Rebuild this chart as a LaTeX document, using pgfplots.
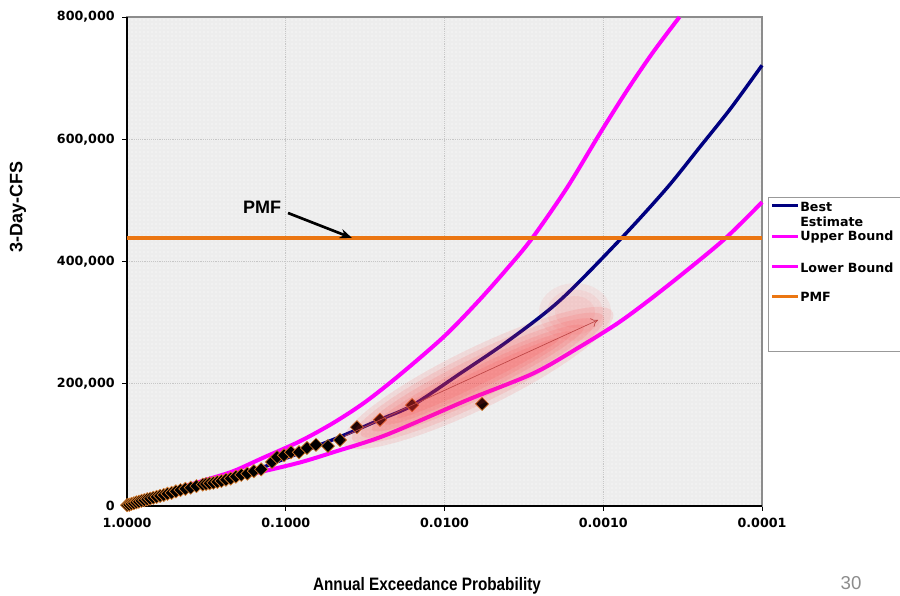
\documentclass[border=0pt]{standalone}
\usepackage{fontspec}
\setmainfont{DejaVu Sans}
\newfontfamily\dvs{DejaVu Sans}
\newfontfamily\lib{Liberation Sans}
\usepackage{pgfplots}
\pgfplotsset{compat=1.18}
\usetikzlibrary{arrows.meta,patterns}
\definecolor{navyc}{RGB}{0,0,128}
\definecolor{magc}{RGB}{255,0,255}
\definecolor{pmfc}{RGB}{235,118,18}
\definecolor{mkedge}{RGB}{214,120,40}
\definecolor{arrred}{RGB}{190,70,70}

\begin{document}
\begin{tikzpicture}[x=0.75pt,y=0.75pt]
\useasboundingbox (0,0) rectangle (900,596);
\begin{axis}[
  at={(95.25pt,67.5pt)}, anchor=south west, scale only axis,
  width=476.25pt, height=366.75pt,
  xmode=log, x dir=reverse, xmin=0.0001, xmax=1,
  ymin=0, ymax=800000, clip=false,
  scaled y ticks=false,
  xtick={1,0.1,0.01,0.001,0.0001},
  xticklabels={1.0000,0.1000,0.0100,0.0010,0.0001},
  xminorticks=false,
  ytick={0,200000,400000,600000,800000},
  yticklabels={0,{200,000},{400,000},{600,000},{800,000}},
  xtick pos=bottom, ytick pos=left,
  tick align=outside, major tick length=3.75pt,
  tick style={black, line width=0.6pt},
  grid=major, major grid style={black!22, densely dotted, line width=0.6pt},
  axis background/.style={fill=black!7, postaction={pattern=dots, pattern color=white}},
  axis line style={draw=black!45, line width=0.8pt},
  ticklabel style={font=\dvs\bfseries\fontsize{9.5}{11}\selectfont},
  xticklabel style={yshift=-2pt},
  yticklabel style={xshift=-2pt},
]
\draw[black, line width=1pt] (axis description cs:0,1) -- (axis description cs:0,0) -- (axis description cs:1,0);

% Best Estimate
\addplot[navyc, line width=2.6pt, smooth] coordinates {
(1,0) (0.5012,23000) (0.2512,43000) (0.1445,62000) (0.1,78000)
(0.04571,113000) (0.02512,142000) (0.01585,165000) (0.007943,217000)
(0.003981,270000) (0.001862,337000) (0.000776,437000) (0.000398,520000)
(0.000245,588000) (0.000158,650000) (0.0001,721000)
};
% Upper Bound
\addplot[magc, line width=3pt, smooth] coordinates {
(1,0) (0.631,16000) (0.4467,31000) (0.3162,43000) (0.2138,57000)
(0.1413,78000) (0.0813,106000) (0.0501,136000) (0.03162,170000)
(0.01905,215000) (0.01,278000) (0.006026,337000) (0.003981,390000)
(0.002825,437000) (0.001698,520000) (0.001047,610000) (0.000708,680000)
(0.00049,741000) (0.000331,800000)
};
% Lower Bound
\addplot[magc, line width=3pt, smooth] coordinates {
(1,0) (0.417,30000) (0.2512,42000) (0.1318,58000) (0.0794,72000)
(0.0501,88000) (0.02344,116000) (0.007244,173000) (0.002754,217000)
(0.001413,260000) (0.000822,298000) (0.000537,333000) (0.000316,380000)
(0.00017,438000) (0.0001,497000)
};
% PMF
\addplot[pmfc, line width=3pt] coordinates {(1,438000) (0.0001,438000)};
% Observed
\addplot[only marks, mark=square*, mark size=3.5pt,
  mark options={rotate=45, fill=black, draw=mkedge, line width=0.5pt}] coordinates {
(0.998,1500)
(0.9683,2000)(0.9365,3500)(0.9048,4500)(0.8730,6000)(0.8413,7000)(0.8095,8500)
(0.7778,9500)(0.7460,11000)(0.7143,12000)(0.6825,13500)(0.6508,15000)(0.6190,16500)
(0.5873,18000)(0.5556,20000)(0.5238,21500)(0.4921,24000)(0.4603,26000)(0.4286,28000)
(0.3968,30000)(0.3651,32500)(0.3333,35000)(0.3175,36000)(0.3016,37000)(0.2857,38000)
(0.2698,39500)(0.2540,41000)(0.2381,43000)(0.2222,45000)(0.2063,48000)(0.1905,51000)
(0.1746,53000)(0.1587,57000)(0.1429,60000)
(0.122,72000)(0.1135,80000)(0.1026,83000)(0.0927,88000)(0.0825,88000)(0.0735,95000)
(0.0645,100000)(0.0542,98000)(0.0455,108000)(0.0356,129000)(0.0255,141000)
(0.0160,165000)(0.0058,167000)
};
\end{axis}

% red glow annotation
\begin{scope}[shift={(478,218)}, rotate=26]
\foreach \a/\b in {150/30,140/25,130/20,118/15,104/11,90/7}
  \fill[red!80!white, opacity=0.11] (0,0) ellipse [x radius=\a, y radius=\b];
\end{scope}
\begin{scope}[shift={(575,284)}]
\foreach \r in {36,28,20}
  \fill[red!70!white, opacity=0.08] (0,0) ellipse [x radius=\r, y radius=0.8*\r];
\end{scope}
\draw[-{To[length=5pt,width=7pt]}, arrred, line width=0.5pt] (345,160) -- (598,276);

% PMF annotation
\node[font=\lib\bfseries\fontsize{13.5}{15}\selectfont] at (262,389) {PMF};
\draw[-{Stealth[length=9pt,width=7pt]}, black, line width=2pt] (288,383) -- (352,358);

% axis titles
\node[rotate=90, font=\lib\bfseries\fontsize{13.5}{15}\selectfont] at (18,389) {3-Day-CFS};
\node[font=\lib\bfseries\fontsize{13.5}{15}\selectfont] at (427,10) {\scalebox{0.85}[1]{Annual Exceedance Probability}};
\node[font=\lib\fontsize{14}{16}\selectfont, text=black!45] at (851,13) {30};

% legend
\draw[black!40, fill=white, line width=0.75pt] (768,398) rectangle (905,244);
\draw[navyc, line width=2.25pt] (772,390) -- (798,390);
\draw[magc, line width=2.25pt] (772,359) -- (798,359);
\draw[magc, line width=2.25pt] (772,329) -- (798,329);
\draw[pmfc, line width=2.25pt] (772,299) -- (798,299);
\begin{scope}[every node/.style={anchor=west, inner sep=0pt, font=\dvs\bfseries\fontsize{9.5}{11}\selectfont}]
\node at (800,389) {Best};
\node at (800,374) {Estimate};
\node at (800,359) {Upper Bound};
\node at (800,328) {Lower Bound};
\node at (800,299) {PMF};
\end{scope}
\end{tikzpicture}
\end{document}
